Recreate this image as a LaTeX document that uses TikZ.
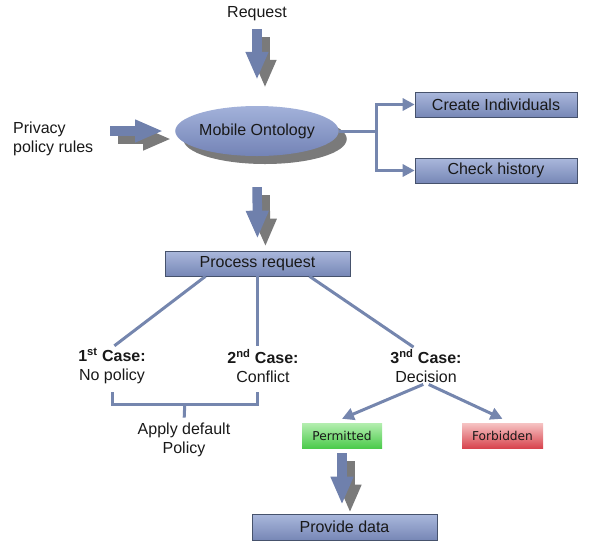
\documentclass[tikz,border=0pt]{standalone}
\usepackage{fontspec}
\setmainfont{Liberation Sans}
\newfontfamily\tagfont{DejaVu Sans}
\usetikzlibrary{arrows.meta,shapes.geometric,shadows,calc}
\definecolor{arrowblue}{HTML}{6F80AC}
\definecolor{linkblue}{HTML}{7586AE}
\definecolor{boxtop}{HTML}{AAB8DC}
\definecolor{boxbot}{HTML}{7787B6}
\definecolor{boxline}{HTML}{46526C}
\definecolor{ovaltop}{HTML}{A3B2DA}
\definecolor{ovalbot}{HTML}{7383B6}
\definecolor{shadowgray}{HTML}{7A7A7A}
\definecolor{permtop}{HTML}{B4EEB0}
\definecolor{permbot}{HTML}{4CCB4C}
\definecolor{forbtop}{HTML}{F6C4C4}
\definecolor{forbbot}{HTML}{D8454F}
\newcommand{\fatarrow}[3][]{%
  \draw[fatarrow,draw=shadowgray,transform canvas={shift={(8pt,-8pt)}},#1] (#2) -- (#3);
  \draw[fatarrow,draw=arrowblue,#1] (#2) -- (#3);}

\begin{document}
\begin{tikzpicture}[x=1pt,y=-1pt,
  font=\fontsize{16}{19.5}\selectfont,
  every node/.style={inner sep=0pt,align=center,text=black!90},
  fatarrow/.style={line width=9.5pt,-{Triangle[length=28pt,width=21pt]}},
  link/.style={draw=linkblue,line width=3pt},
  linkarrow/.style={link,-{Triangle[length=12pt,width=12pt]}},
  box/.style={draw=boxline,line width=0.6pt,top color=boxtop,bottom color=boxbot,minimum height=25pt},
  tag/.style={font=\tagfont\fontsize{12.2}{14}\selectfont,minimum width=80pt,minimum height=25pt}]
\useasboundingbox (0,0) rectangle (592,542);

\node (req) at (257,14) {Request};
\node[ellipse,top color=ovaltop,bottom color=ovalbot,minimum width=160pt,minimum height=50pt,
  general shadow={fill=shadowgray,shadow xshift=8pt,shadow yshift=-8pt}] (onto) at (257,131) {Mobile Ontology};
\node[anchor=west,align=left] (priv) at (13,139) {Privacy\\policy rules};
\node[box,minimum width=162pt] (create) at (496,104.5) {Create Individuals};
\node[box,minimum width=162pt] (check) at (496,170.5) {Check history};
\node[box,minimum width=185pt] (proc) at (257.5,263.5) {Process request};
\node (case1) at (112,366) {\textbf{1\textsuperscript{st} Case:}\\No policy};
\node (case2) at (263,366) {\textbf{2\textsuperscript{nd} Case:}\\Conflict};
\node (case3) at (426,366) {\textbf{3\textsuperscript{nd} Case:}\\Decision};
\node (apply) at (184,440) {Apply default\\Policy};
\node[tag,top color=permtop,bottom color=permbot] (perm) at (342,435.5) {Permitted};
\node[tag,top color=forbtop,bottom color=forbbot,minimum width=81pt] (forb) at (502.5,435.5) {Forbidden};
\node[box,minimum width=185pt,minimum height=26pt] (prov) at (344.5,527) {Provide data};

\fatarrow[shorten <=8pt,shorten >=26pt]{req.south}{onto.north}
\fatarrow[shorten <=17pt,shorten >=12pt]{priv.east |- onto.west}{onto.west}
\fatarrow[shorten <=31pt,shorten >=12pt]{onto.south}{proc.north}
\fatarrow[shorten <=5pt,shorten >=9pt]{perm.south}{perm.south |- prov.north}

\draw[link] (onto.east) -- ++(38,0) coordinate (fork);
\draw[linkarrow] (fork) |- (create.west);
\draw[linkarrow] (fork) |- (check.west);

\draw[link,shorten >=3pt] ([xshift=-52pt]proc.south) -- (case1.north);
\draw[link,shorten >=3pt] (proc.south) -- (proc.south |- case2.north);
\draw[link,shorten >=3pt] ([xshift=52pt]proc.south) -- ([xshift=-10pt]case3.north);

\draw[link] ([yshift=-8pt]case1.south) -- ++(0,12) coordinate (brl) -- (brl -| proc.south) coordinate (brr) -- ++(0,-12);
\draw[link,shorten >=5pt] ($(brl)!0.5!(brr)$) -- (apply.north);

\draw[linkarrow,shorten <=3pt] (case3.south) -- ([yshift=4pt]perm.north);
\draw[linkarrow,shorten <=3pt] (case3.south) -- ([yshift=4pt]forb.north);
\end{tikzpicture}
\end{document}
